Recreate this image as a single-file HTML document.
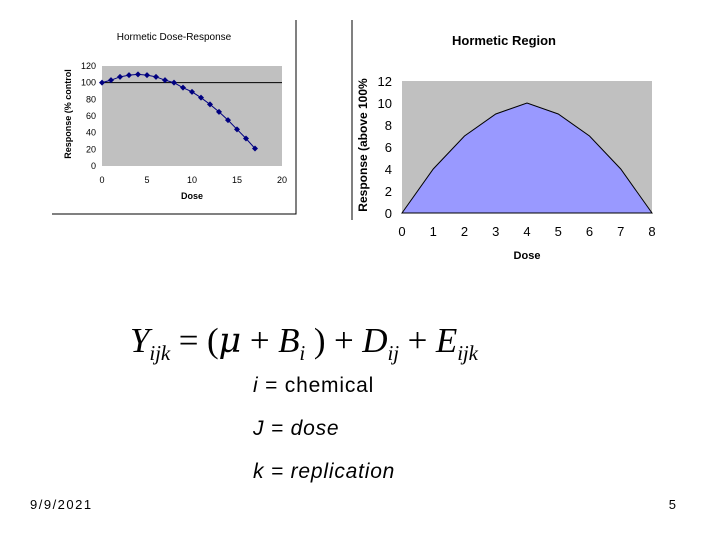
<!DOCTYPE html>
<html><head><meta charset="utf-8"><style>
body{margin:0;width:720px;height:540px;background:#fff;overflow:hidden;font-family:"Liberation Sans",sans-serif}
svg{position:absolute;left:0;top:0}
</style></head><body>
<svg width="720" height="540">
<g id="c1"></g>
<g id="c2"></g>
<g font-family="Liberation Serif, serif" font-style="italic" font-size="35">
<text x="130" y="352" textLength="348">Y<tspan font-size="21" dy="8">ijk</tspan><tspan dy="-8" font-style="normal"> = (</tspan><tspan font-family="DejaVu Serif, serif">μ</tspan><tspan font-style="normal"> + </tspan>B<tspan font-size="21" dy="8">i</tspan><tspan dy="-8" font-style="normal"> ) + </tspan>D<tspan font-size="21" dy="8">ij</tspan><tspan dy="-8" font-style="normal"> + </tspan>E<tspan font-size="21" dy="8">ijk</tspan></text>
</g>
<text x="253" y="392" font-size="21" letter-spacing="0.8"><tspan font-style="italic">i</tspan> = chemical</text>
<text x="253" y="435" font-size="21" letter-spacing="0.8" font-style="italic">J = dose</text>
<text x="253" y="478" font-size="21" letter-spacing="0.8" font-style="italic">k = replication</text>
<text x="30" y="509" font-size="13" letter-spacing="1.5">9/9/2021</text>
<text x="676" y="509" font-size="13" text-anchor="end">5</text>
</svg>
<script>
const doses1=[0,1,2,3,4,5,6,7,8,9,10,11,12,13,14,15,16,17];
const resp1=[100,103,107,109,110,109,107,103,100,94,89,82,74,65,55,44,33,21];
const xt1=[0,5,10,15,20];
const yt1=[0,20,40,60,80,100,120];
const doses2=[0,1,2,3,4,5,6,7,8];
const resp2=[0,4,7,9,10,9,7,4,0];
const yt2=[0,2,4,6,8,10,12];
const NS="http://www.w3.org/2000/svg";
function mk(p,t,a,txt){const e=document.createElementNS(NS,t);for(const k in a)e.setAttribute(k,a[k]);if(txt!==undefined)e.textContent=txt;p.appendChild(e);return e;}
const g1=document.getElementById('c1');
const x1=v=>102+v*(282-102)/20, y1=v=>166-v*(166-66)/120;
let e;
e=mk(g1,'path',{d:'M296 20V214H52',fill:'none',stroke:'#000','stroke-width':1});

e=mk(g1,'rect',{x:x1(0),y:y1(120),width:x1(20)-x1(0),height:y1(0)-y1(120),fill:'#c0c0c0'});

e=mk(g1,'line',{x1:x1(0),x2:x1(20),y1:y1(100),y2:y1(100),stroke:'#000'});

e=mk(g1,'polyline',{points:doses1.map((d,i)=>x1(d)+','+y1(resp1[i])).join(' '),fill:'none',stroke:'#000080','stroke-width':1});

doses1.forEach((d,i)=>{e=mk(g1,'path',{d:`M${x1(d)} ${y1(resp1[i])-3}l3 3l-3 3l-3 -3z`,fill:'#000080'});
});
xt1.forEach(v=>{e=mk(g1,'text',{x:x1(v),y:183,'font-size':9,'text-anchor':'middle'},v);
});
yt1.forEach(v=>{e=mk(g1,'text',{x:96,y:y1(v)+3,'font-size':9,'text-anchor':'end'},v);
});
e=mk(g1,'text',{x:174,y:40,'font-size':10,'text-anchor':'middle'},'Hormetic Dose-Response');

e=mk(g1,'text',{x:192,y:199,'font-size':9,'font-weight':'bold','text-anchor':'middle'},'Dose');

e=mk(g1,'text',{x:0,y:0,'font-size':9,'font-weight':'bold','text-anchor':'middle',transform:'translate(71,114) rotate(-90)'},'Response (% control');

const g2=document.getElementById('c2');
const x2=v=>402+v*(652-402)/8, y2=v=>213-v*(213-81)/12;
e=mk(g2,'line',{x1:352,x2:352,y1:20,y2:220,stroke:'#000'});

e=mk(g2,'rect',{x:x2(0),y:y2(12),width:x2(8)-x2(0),height:y2(0)-y2(12),fill:'#c0c0c0'});

e=mk(g2,'polygon',{points:doses2.map((d,i)=>x2(d)+','+y2(resp2[i])).join(' '),fill:'#9999ff',stroke:'#000','stroke-width':1});

doses2.forEach(v=>{e=mk(g2,'text',{x:x2(v),y:236,'font-size':13,'text-anchor':'middle'},v);
});
yt2.forEach(v=>{e=mk(g2,'text',{x:392,y:y2(v)+5,'font-size':13,'text-anchor':'end'},v);
});
e=mk(g2,'text',{x:504,y:45,'font-size':13,'font-weight':'bold','text-anchor':'middle'},'Hormetic Region');

e=mk(g2,'text',{x:527,y:259,'font-size':11,'font-weight':'bold','text-anchor':'middle'},'Dose');

e=mk(g2,'text',{x:0,y:0,'font-size':12,'font-weight':'bold','text-anchor':'middle',transform:'translate(367,145) rotate(-90)'},'Response (above 100%');

</script>
</body></html>
